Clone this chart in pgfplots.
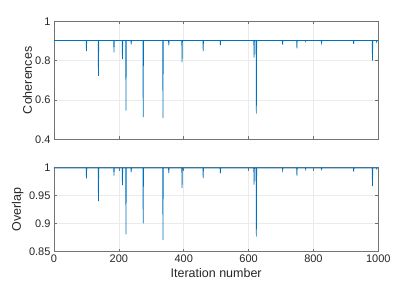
\documentclass[border=0pt]{standalone}
\usepackage{pgfplots}
\pgfplotsset{compat=1.18}
\usepackage{fontspec}
\setmainfont{Liberation Sans}
\definecolor{mblue}{rgb}{0,0.447,0.741}
\pgfplotsset{
  mstyle/.style={
    scale only axis, width=324.3pt,
    xmin=0, xmax=1000, xtick={0,200,...,1000},
    axis line style={black!55, line width=0.6pt},
    tick style={black!55, line width=0.5pt},
    major tick length=3pt,
    tick align=inside,
    grid=major, major grid style={black!8, line width=0.5pt},
    tick label style={font=\fontsize{11}{13}\selectfont, text=black!85},
    label style={font=\fontsize{12.5}{15}\selectfont, text=black!85},
    /pgf/number format/assume math mode=true,
    clip=true,
  }
}
\begin{document}
\begin{tikzpicture}
\path[use as bounding box] (0,0) rectangle (418pt,282pt);
\begin{axis}[mstyle,
  at={(54pt,142.7pt)}, anchor=south west, height=118pt,
  ymin=0.4, ymax=1, ytick={0.4,0.6,0.8,1},
  yticklabels={0.4,0.6,0.8,1},
  xticklabels={},
  ylabel={Coherences},
  ylabel style={at={([xshift=-22pt]axis description cs:0,0.5)}, anchor=base},
]
\addplot[mblue, line width=0.7pt] coordinates {
(0,0.902) (99,0.902) (100,0.849) (101,0.902)
(136,0.902) (137,0.722) (138,0.902)
(184,0.902) (185,0.842) (186,0.902)
(210,0.902) (211,0.808) (212,0.902)
(221,0.902) (222,0.546) (223,0.902)
(237,0.902) (238,0.883) (239,0.902)
(274,0.902) (275,0.513) (276,0.902)
(335,0.902) (336,0.508) (337,0.902)
(353,0.902) (354,0.878) (355,0.902)
(394,0.902) (395,0.793) (396,0.902)
(459,0.902) (460,0.849) (461,0.902)
(512,0.902) (513,0.878) (514,0.902)
(616,0.902) (617,0.815) (618,0.902)
(623,0.902) (624,0.530) (625,0.902)
(704,0.902) (705,0.881) (706,0.902)
(748,0.902) (749,0.863) (750,0.902)
(775,0.902) (776,0.897) (777,0.902)
(824,0.902) (825,0.890) (826,0.902)
(923,0.902) (924,0.885) (925,0.902)
(981,0.902) (982,0.800) (983,0.902)
(994,0.902) (995,0.895) (996,0.902)
(1000,0.902)
};
\end{axis}
\begin{axis}[mstyle,
  at={(54pt,30.3pt)}, anchor=south west, height=84pt,
  ymin=0.85, ymax=1, ytick={0.85,0.9,0.95,1},
  yticklabels={0.85,0.9,0.95,1},
  xticklabels={0,200,400,600,800,1000},
  xlabel={Iteration number},
  xlabel style={at={([yshift=-25.3pt]axis description cs:0.5,0)}, anchor=base},
  ylabel={Overlap},
  ylabel style={at={([xshift=-33pt]axis description cs:0,0.5)}, anchor=base},
]
\addplot[mblue, line width=0.7pt] coordinates {
(0,0.9995) (99,0.9995) (100,0.981) (101,0.9995)
(136,0.9995) (137,0.9405) (138,0.9995)
(184,0.9995) (185,0.986) (186,0.9995)
(210,0.9995) (211,0.969) (212,0.9995)
(221,0.9995) (222,0.881) (223,0.9995)
(237,0.9995) (238,0.992) (239,0.9995)
(274,0.9995) (275,0.9006) (276,0.9995)
(335,0.9995) (336,0.871) (337,0.9995)
(353,0.9995) (354,0.9905) (355,0.9995)
(394,0.9995) (395,0.964) (396,0.9995)
(459,0.9995) (460,0.9815) (461,0.9995)
(512,0.9995) (513,0.990) (514,0.9995)
(616,0.9995) (617,0.970) (618,0.9995)
(623,0.9995) (624,0.877) (625,0.9995)
(704,0.9995) (705,0.995) (706,0.9995)
(748,0.9995) (749,0.986) (750,0.9995)
(775,0.9995) (776,0.997) (777,0.9995)
(824,0.9995) (825,0.997) (826,0.9995)
(923,0.9995) (924,0.993) (925,0.9995)
(981,0.9995) (982,0.967) (983,0.9995)
(994,0.9995) (995,0.998) (996,0.9995)
(1000,0.9995)
};
\end{axis}
\end{tikzpicture}
\end{document}
